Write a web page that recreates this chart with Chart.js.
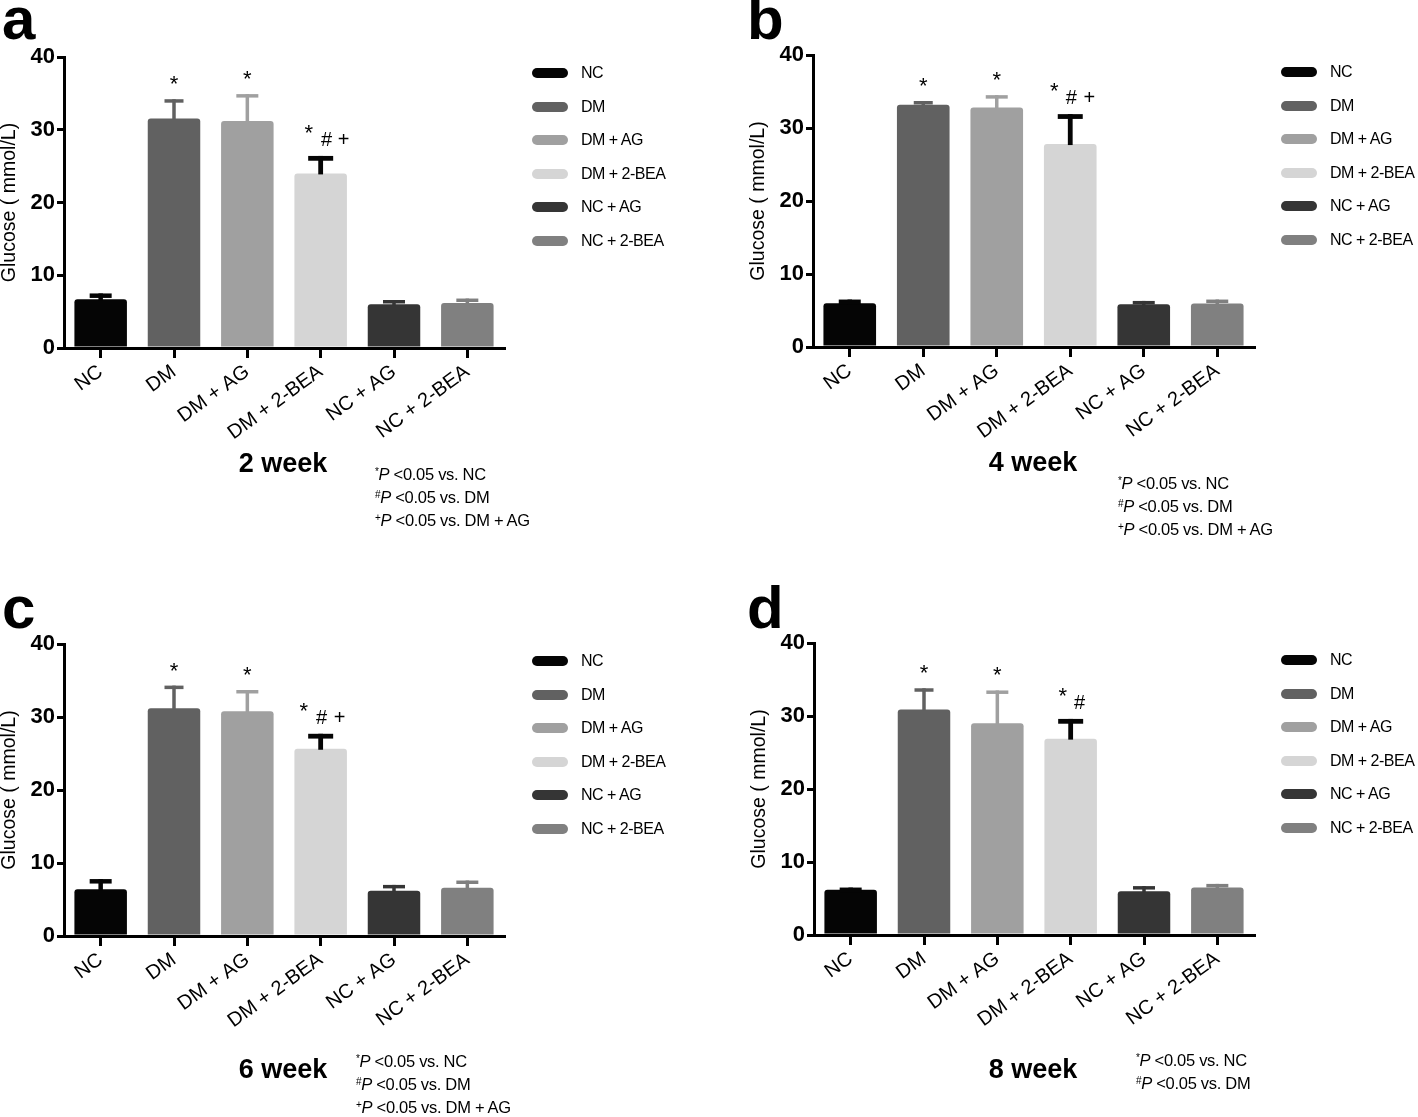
<!DOCTYPE html>
<html><head><meta charset="utf-8">
<script src="https://cdn.jsdelivr.net/npm/chart.js@4.4.1/dist/chart.umd.min.js"></script>
<style>
body{margin:0;background:#fff;width:1418px;height:1117px;position:relative;overflow:hidden;font-family:"Liberation Sans",Arial,sans-serif;color:#000;}
canvas{position:absolute;}
.abs{position:absolute;white-space:nowrap;}
.letter{font-weight:bold;font-size:60px;line-height:1;}
.week{font-weight:bold;font-size:27px;line-height:1;transform:translate(-50%,-50%);}
.leg{font-size:16px;letter-spacing:-0.5px;line-height:16px;}
.sw{position:absolute;width:36px;height:10px;border-radius:5px;}
.fn{font-size:16.5px;line-height:23px;letter-spacing:-0.3px;}
.fn sup{font-size:10px;vertical-align:top;position:relative;top:-3px;}
</style></head><body>
<canvas id="ca" width="709" height="558" style="left:0;top:0"></canvas>
<canvas id="cb" width="709" height="558" style="left:709px;top:0"></canvas>
<canvas id="cc" width="709" height="558" style="left:0;top:558px"></canvas>
<canvas id="cd" width="709" height="558" style="left:709px;top:558px"></canvas>
<script>
// ---- data ----
const categories = ["NC", "DM", "DM + AG", "DM + 2-BEA", "NC + AG", "NC + 2-BEA"];
const week2Mean = [6.7, 31.55, 31.2, 24.0, 6.0, 6.2];
const week2Err  = [0.8, 2.65, 3.7, 2.4, 0.6, 0.6];
const week4Mean = [6.0, 33.2, 32.8, 27.8, 5.86, 5.95];
const week4Err  = [0.5, 0.5, 1.7, 4.1, 0.45, 0.55];
const week6Mean = [6.4, 31.2, 30.8, 25.65, 6.2, 6.6];
const week6Err  = [1.4, 3.1, 2.9, 2.05, 0.8, 1.0];
const week8Mean = [6.2, 30.9, 29.0, 26.9, 6.0, 6.5];
const week8Err  = [0.3, 2.9, 4.5, 2.7, 0.7, 0.5];
const week2Marks = ["", "*", "*", "* # +", "", ""];
const week4Marks = ["", "*", "*", "* # +", "", ""];
const week6Marks = ["", "*", "*", "* # +", "", ""];
const week8Marks = ["", "*", "*", "* #", "", ""];
const yTicks = [0, 10, 20, 30, 40];
const yTitle = "Glucose ( mmol/L)";
const panelTitles = ["2 week", "4 week", "6 week", "8 week"];
const panelLetters = ["a", "b", "c", "d"];
const noteLines = [
  ["*", "vs. NC"], ["#", "vs. DM"], ["+", "vs. DM + AG"]
];
const noteCounts = [3, 3, 3, 2];

// ---- styles ----
const FONT = '"Liberation Sans", Arial, sans-serif';
const barColors = ["#050505", "#616161", "#a0a0a0", "#d5d5d5", "#353535", "#808080"];
const errColors = ["#050505", "#616161", "#a0a0a0", "#050505", "#353535", "#808080"];
const errWidths = [4.5, 3.5, 3.5, 4.8, 3.5, 3.5];
const capWidths = [22, 19, 22, 25, 22, 22];

const layouts = [
  {id:"ca", ox:0,   oy:0,   padL:0,  padR:205, padT:57, padB:90, groupDx:[-12,6,23],
   letter:[2,-11], week:[283,463], legend:[532,73], note:[375,462.5]},
  {id:"cb", ox:709, oy:0,   padL:40, padR:164, padT:55, padB:91, groupDx:[-16,1,19],
   letter:[747,-11], week:[1033,462], legend:[1281,72], note:[1118,471.5]},
  {id:"cc", ox:0,   oy:558, padL:0,  padR:205, padT:86, padB:60, groupDx:[-17,1,19],
   letter:[2,578], week:[283,1069], legend:[532,661], note:[356,1049.5]},
  {id:"cd", ox:709, oy:558, padL:41, padR:164, padT:85, padB:61, groupDx:[-8,9],
   letter:[747,578], week:[1033,1069], legend:[1281,660], note:[1136,1048.5]}
];
const panelData = [
  [week2Mean, week2Err, week2Marks],
  [week4Mean, week4Err, week4Marks],
  [week6Mean, week6Err, week6Marks],
  [week8Mean, week8Err, week8Marks]
];

function makeErrPlugin(means, errs, marks, lay) {
  return {
    id: 'errbars',
    afterDatasetsDraw(chart) {
      const ctx = chart.ctx, ys = chart.scales.y;
      const meta = chart.getDatasetMeta(0);
      ctx.save();
      meta.data.forEach((bar, i) => {
        const x = bar.x;
        const yb = ys.getPixelForValue(means[i]);
        const yt = ys.getPixelForValue(means[i] + errs[i]);
        ctx.strokeStyle = errColors[i];
        ctx.lineWidth = errWidths[i];
        ctx.lineCap = 'butt';
        ctx.beginPath();
        ctx.moveTo(x, yb + 1);
        ctx.lineTo(x, yt);
        ctx.stroke();
        ctx.beginPath();
        ctx.moveTo(x - capWidths[i] / 2, yt + errWidths[i] / 2);
        ctx.lineTo(x + capWidths[i] / 2, yt + errWidths[i] / 2);
        ctx.stroke();
        // significance marks
        const syms = marks[i] ? marks[i].split(" ") : [];
        ctx.fillStyle = '#000';
        ctx.textAlign = 'center';
        ctx.textBaseline = 'alphabetic';
        if (syms.length === 1) {
          ctx.font = '22px ' + FONT;
          ctx.fillText(syms[0], x, yt - 8);
        } else if (syms.length > 1) {
          syms.forEach((s, k) => {
            const dx = lay.groupDx[k];
            if (s === '*') { ctx.font = '22px ' + FONT; ctx.fillText(s, x + dx, yt - 16); }
            else { ctx.font = '20px ' + FONT; ctx.fillText(s, x + dx, yt - 10); }
          });
        }
      });
      ctx.restore();
    }
  };
}

layouts.forEach((lay, p) => {
  const [means, errs, marks] = panelData[p];
  new Chart(document.getElementById(lay.id), {
    type: 'bar',
    data: {
      labels: categories,
      datasets: [{
        data: means,
        backgroundColor: barColors,
        borderRadius: {topLeft: 3, topRight: 3},
        borderSkipped: 'bottom',
        categoryPercentage: 1,
        barPercentage: 0.716
      }]
    },
    options: {
      responsive: false, animation: false, devicePixelRatio: 1,
      layout: {padding: {left: lay.padL, right: lay.padR, top: lay.padT, bottom: lay.padB}},
      plugins: {legend: {display: false}, tooltip: {enabled: false}, title: {display: false}},
      scales: {
        x: {
          offset: true,
          grid: {display: true, drawOnChartArea: false, drawTicks: true, tickLength: 10, lineWidth: 3, color: '#000', offset: false},
          border: {display: true, width: 3, color: '#000'},
          ticks: {color: '#000', font: {family: FONT, size: 20}, minRotation: 36, maxRotation: 36, padding: 2, autoSkip: false},
          afterFit(s) { s.height = 120; }
        },
        y: {
          min: yTicks[0], max: yTicks[yTicks.length - 1],
          afterBuildTicks(s) { s.ticks = yTicks.map(v => ({value: v})); },
          ticks: {color: '#000', font: {family: FONT, size: 22, weight: 'bold'}, padding: 2},
          grid: {display: true, drawOnChartArea: false, drawTicks: true, tickLength: 7, lineWidth: 3, color: '#000'},
          border: {display: true, width: 3, color: '#000'},
          title: {display: true, text: yTitle, color: '#000', font: {family: FONT, size: 19.5, lineHeight: 1}, padding: 0},
          afterFit(s) { s.width = 64; }
        }
      }
    },
    plugins: [makeErrPlugin(means, errs, marks, lay)]
  });

  // panel letter
  const L = document.createElement('div');
  L.className = 'abs letter';
  L.style.left = lay.letter[0] + 'px'; L.style.top = lay.letter[1] + 'px';
  L.textContent = panelLetters[p];
  document.body.appendChild(L);
  // week title
  const W = document.createElement('div');
  W.className = 'abs week';
  W.style.left = lay.week[0] + 'px'; W.style.top = lay.week[1] + 'px';
  W.textContent = panelTitles[p];
  document.body.appendChild(W);
  // legend
  categories.forEach((c, i) => {
    const y = lay.legend[1] + i * 33.6;
    const sw = document.createElement('div');
    sw.className = 'sw';
    sw.style.left = lay.legend[0] + 'px'; sw.style.top = (y - 5) + 'px';
    sw.style.background = barColors[i];
    document.body.appendChild(sw);
    const t = document.createElement('div');
    t.className = 'abs leg';
    t.style.left = (lay.legend[0] + 49) + 'px'; t.style.top = (y - 8) + 'px';
    t.textContent = c;
    document.body.appendChild(t);
  });
  // footnotes
  const N = document.createElement('div');
  N.className = 'abs fn';
  N.style.left = lay.note[0] + 'px'; N.style.top = lay.note[1] + 'px';
  N.innerHTML = noteLines.slice(0, noteCounts[p]).map(n => '<sup>' + n[0] + '</sup><i>P</i> &lt;0.05 ' + n[1]).join('<br>');
  document.body.appendChild(N);
});
</script>
</body></html>
